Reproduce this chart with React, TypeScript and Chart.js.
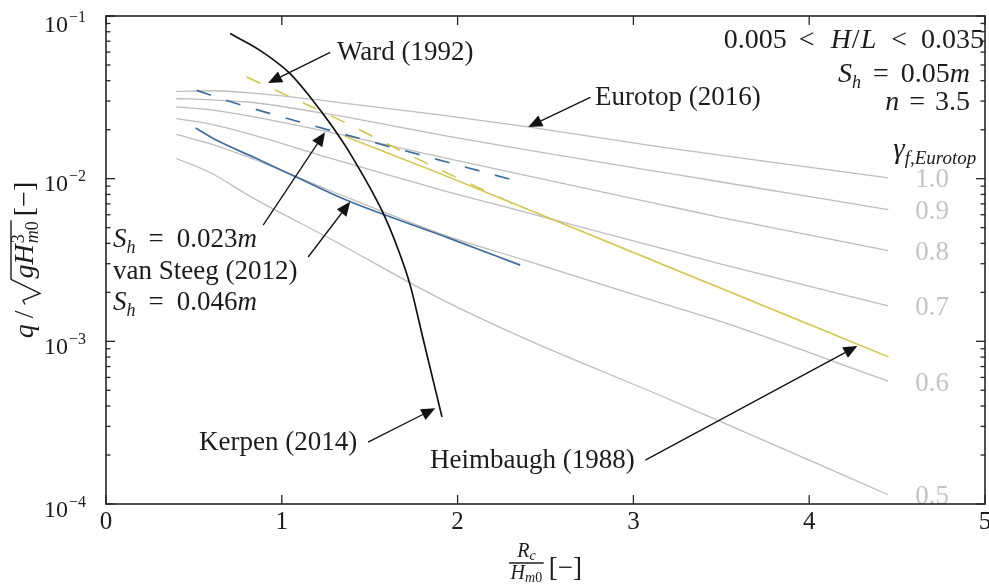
import { useEffect, useRef } from 'react';
import { Chart, registerables } from 'chart.js';

Chart.register(...registerables);

// ---------- data ----------
// Eurotop (2016) family, gamma_f = 1.0 ... 0.5
const EUROTOP_X = [0.4, 0.6, 0.82, 1.27, 1.9, 2.4, 3.15, 3.5, 4.45];
const EUROTOP_G10 = [0.0344, 0.0347, 0.0337, 0.0299, 0.0247, 0.0208, 0.0157, 0.0139, 0.0101];
const EUROTOP_G09 = [0.0311, 0.0305, 0.0295, 0.0249, 0.0186, 0.015, 0.011, 0.00954, 0.00646];
const EUROTOP_G08 = [0.0276, 0.0265, 0.0242, 0.0193, 0.0136, 0.0104, 0.00696, 0.00577, 0.00361];
const EUROTOP_G07 = [0.0234, 0.0216, 0.0188, 0.0134, 0.00857, 0.00616, 0.00375, 0.00298, 0.00165];
const EUROTOP_G06 = [0.0187, 0.0163, 0.0134, 0.00849, 0.0046, 0.00311, 0.00173, 0.00132, 0.000569];
const EUROTOP_G05 = [0.0133, 0.0108, 0.00779, 0.0043, 0.00183, 0.00102, 0.000466, 0.00032, 0.000114];
const GAMMA_LABELS = ['1.0', '0.9', '0.8', '0.7', '0.6', '0.5'];

// van Steeg (2012)
const STEEG023_X = [0.516, 0.7, 1.275, 1.8, 2.356];
const STEEG023_Y = [0.0349, 0.0299, 0.0198, 0.0139, 0.00954];
const STEEG046_X = [0.51, 0.63, 0.85, 1.085, 1.37, 1.958, 2.356];
const STEEG046_Y = [0.0205, 0.0172, 0.0134, 0.0102, 0.00736, 0.00428, 0.00294];

// Heimbaugh (1988)
const HEIM_X = [1.36, 1.901, 3.153, 4.451];
const HEIM_Y = [0.0182, 0.01074, 0.00301, 0.000802];

// Ward (1992)
const WARD_X = [0.8, 1.313, 1.787, 2.356];
const WARD_Y = [0.0422, 0.0234, 0.013, 0.0067];

// Kerpen (2014)
const KERP_X = [0.706, 0.876, 1.047, 1.161, 1.275, 1.389, 1.577, 1.655, 1.729, 1.803, 1.911];
const KERP_Y = [0.078, 0.0615, 0.0443, 0.0318, 0.0218, 0.01426, 0.00612, 0.00384, 0.00224, 0.001045, 0.000343];

// axes
const X_TICKS = [0, 1, 2, 3, 4, 5];
const Y_EXPONENTS = [-4, -3, -2, -1];

// annotation text anchors (data coords, left/baseline) and arrows (tail -> tip)
const NOTE_TEXT = ['Ward (1992)', 'Eurotop (2016)', 'van Steeg (2012)', 'Kerpen (2014)', 'Heimbaugh (1988)'];
const NOTE_POS = [
  [1.314, 0.0534],
  [2.782, 0.02825],
  [0.04, 0.002432],
  [0.529, 0.000214],
  [1.843, 0.000166],
];
const SH023_POS = [0.04, 0.003803];
const SH046_POS = [0.04, 0.001552];
const ARROWS = [
  [1.275, 0.0598, 0.922, 0.0387],
  [2.755, 0.0316, 2.402, 0.0208],
  [0.894, 0.00518, 1.246, 0.0193],
  [1.15, 0.0033, 1.389, 0.0072],
  [1.491, 0.00024, 1.873, 0.000388],
  [3.068, 0.000186, 4.274, 0.000937],
];

// ---------- helpers ----------
const FONT = '"Liberation Serif", "Times New Roman", serif';
const INK = '#1c1c1c';
type Run = { t?: string; it?: boolean; sz?: number; dy?: number; gap?: number };

function fnt(r: Run, base: number) {
  return `${r.it ? 'italic ' : ''}${r.sz ?? base}px ${FONT}`;
}
function widthOf(ctx: CanvasRenderingContext2D, runs: Run[], base: number) {
  let w = 0;
  for (const r of runs) {
    if (r.gap !== undefined) w += r.gap;
    else {
      ctx.font = fnt(r, base);
      w += ctx.measureText(r.t || '').width;
    }
  }
  return w;
}
function drawRuns(ctx: CanvasRenderingContext2D, runs: Run[], x: number, y: number, align: string, base = 27) {
  const w = widthOf(ctx, runs, base);
  let cx = align === 'left' ? x : align === 'right' ? x - w : x - w / 2;
  ctx.textAlign = 'left';
  ctx.textBaseline = 'alphabetic';
  for (const r of runs) {
    if (r.gap !== undefined) {
      cx += r.gap;
      continue;
    }
    ctx.font = fnt(r, base);
    ctx.fillText(r.t || '', cx, y + (r.dy ?? 0));
    cx += ctx.measureText(r.t || '').width;
  }
  return w;
}
function seg(ctx: CanvasRenderingContext2D, x1: number, y1: number, x2: number, y2: number) {
  ctx.beginPath();
  ctx.moveTo(x1, y1);
  ctx.lineTo(x2, y2);
  ctx.stroke();
}
function arrow(ctx: CanvasRenderingContext2D, x1: number, y1: number, x2: number, y2: number) {
  const ang = Math.atan2(y2 - y1, x2 - x1);
  const L = 14, W = 6;
  const bx = x2 - L * Math.cos(ang), by = y2 - L * Math.sin(ang);
  seg(ctx, x1, y1, bx, by);
  ctx.beginPath();
  ctx.moveTo(x2, y2);
  ctx.lineTo(bx + W * Math.sin(ang), by - W * Math.cos(ang));
  ctx.lineTo(bx - W * Math.sin(ang), by + W * Math.cos(ang));
  ctx.closePath();
  ctx.fill();
}

function drawYTitle(ctx: CanvasRenderingContext2D, cx: number, cy: number) {
  ctx.save();
  ctx.translate(cx, cy);
  ctx.rotate(-Math.PI / 2);
  const base = 28;
  ctx.font = fnt({ it: true }, base);
  const wq = ctx.measureText('q').width;
  const wg = ctx.measureText('g').width;
  const wH = ctx.measureText('H').width;
  ctx.font = fnt({}, base);
  const wsl = ctx.measureText('/').width;
  const wbr = ctx.measureText('[−]').width;
  ctx.font = fnt({ it: true }, 18);
  const wm = ctx.measureText('m').width;
  ctx.font = fnt({}, 18);
  const w0 = ctx.measureText('0').width;
  const w3 = ctx.measureText('3').width;
  const wsub = Math.max(wm + w0, w3);
  const radW = 26;
  const g1 = 6, g2 = 6, g3 = 5;
  const total = wq + g1 + wsl + g2 + radW + wg + wH + 1 + wsub + g3 + wbr;
  let x = -total / 2;
  ctx.fillStyle = INK;
  ctx.strokeStyle = INK;
  ctx.textBaseline = 'alphabetic';
  ctx.textAlign = 'left';
  ctx.font = fnt({ it: true }, base);
  ctx.fillText('q', x, 0);
  x += wq + g1;
  ctx.font = fnt({}, base);
  ctx.fillText('/', x, 0);
  x += wsl + g2;
  // radical
  const top = -22;
  ctx.lineWidth = 1.4;
  ctx.beginPath();
  ctx.moveTo(x, -8);
  ctx.lineTo(x + 4, -10);
  ctx.lineTo(x + 11, 7);
  ctx.lineTo(x + radW - 1, top);
  ctx.stroke();
  const overStart = x + radW - 1;
  x += radW;
  ctx.font = fnt({ it: true }, base);
  ctx.fillText('g', x, 0);
  x += wg;
  ctx.fillText('H', x, 0);
  x += wH + 1;
  ctx.font = fnt({}, 18);
  ctx.fillText('3', x, -9);
  ctx.font = fnt({ it: true }, 18);
  ctx.fillText('m', x, 5);
  ctx.font = fnt({}, 18);
  ctx.fillText('0', x + wm, 5);
  x += wsub;
  seg(ctx, overStart, top, x + 1, top);
  x += g3;
  ctx.font = fnt({}, base);
  ctx.fillText('[−]', x, 0);
  ctx.restore();
}

function drawXTitle(ctx: CanvasRenderingContext2D, cx: number, barY: number) {
  ctx.fillStyle = INK;
  ctx.strokeStyle = INK;
  const num: Run[] = [{ t: 'R', it: true, sz: 20 }, { t: 'c', it: true, sz: 14, dy: 3 }];
  const den: Run[] = [{ t: 'H', it: true, sz: 20 }, { t: 'm', it: true, sz: 14, dy: 3 }, { t: '0', sz: 14, dy: 3 }];
  const wn = widthOf(ctx, num, 20);
  const wd = widthOf(ctx, den, 20);
  const fw = Math.max(wn, wd) + 3;
  const br: Run[] = [{ t: '[−]' }];
  const wb = widthOf(ctx, br, 27);
  const gap = 5;
  const total = fw + gap + wb;
  const x0 = cx - total / 2;
  ctx.lineWidth = 1.3;
  seg(ctx, x0, barY, x0 + fw, barY);
  drawRuns(ctx, num, x0 + fw / 2, barY - 6, 'center', 20);
  drawRuns(ctx, den, x0 + fw / 2, barY + 16, 'center', 20);
  drawRuns(ctx, br, x0 + fw + gap, barY + 13, 'left', 27);
}

const overlay = {
  id: 'overlay',
  afterDatasetsDraw(chart: any) {
    const { ctx, chartArea: a, scales } = chart;
    const X = (v: number) => scales.x.getPixelForValue(v);
    const Y = (v: number) => scales.y.getPixelForValue(v);
    ctx.save();
    ctx.fillStyle = INK;
    ctx.strokeStyle = '#262626';

    // gamma labels at curve ends
    const ends = [EUROTOP_G10, EUROTOP_G09, EUROTOP_G08, EUROTOP_G07, EUROTOP_G06, EUROTOP_G05];
    const lastX = EUROTOP_X[EUROTOP_X.length - 1];
    ctx.fillStyle = '#c4c4c4';
    ends.forEach((arr, i) => {
      drawRuns(ctx, [{ t: GAMMA_LABELS[i] }], X(lastX) + 27, Y(arr[arr.length - 1]) + 9.5, 'left', 27);
    });
    ctx.fillStyle = INK;

    // frame
    ctx.lineWidth = 1.6;
    ctx.strokeRect(a.left, a.top, a.right - a.left, a.bottom - a.top);
    // x ticks (inward, top and bottom)
    ctx.lineWidth = 1.3;
    X_TICKS.forEach((t) => {
      const px = X(t);
      seg(ctx, px, a.bottom, px, a.bottom - 9);
      seg(ctx, px, a.top, px, a.top + 9);
    });
    // y ticks (log, inward, left and right)
    Y_EXPONENTS.forEach((e) => {
      for (let m = 1; m <= 9; m++) {
        const v = m * Math.pow(10, e);
        if (v > 0.1000001) break;
        const py = Y(v);
        const len = m === 1 ? 9 : 4.5;
        seg(ctx, a.left, py, a.left + len, py);
        seg(ctx, a.right, py, a.right - len, py);
      }
    });
    const pyTop = Y(0.1);
    seg(ctx, a.left, pyTop, a.left + 9, pyTop);

    // tick labels
    X_TICKS.forEach((t) => {
      drawRuns(ctx, [{ t: String(t) }], X(t), a.bottom + 25, 'center', 25);
    });
    Y_EXPONENTS.forEach((e) => {
      const py = Y(Math.pow(10, e));
      const base = Math.max(py + 12.7, a.top + 16);
      drawRuns(ctx, [{ t: '10', sz: 24 }, { gap: 1 }, { t: '−' + String(-e), sz: 16, dy: -10 }], a.left - 20, base, 'right', 24);
    });

    // axis titles
    drawYTitle(ctx, 33, (a.top + a.bottom) / 2);
    drawXTitle(ctx, (a.left + a.right) / 2, a.bottom + 59);

    // top-right parameter text
    drawRuns(ctx, [
      { t: '0.005' }, { gap: 12 }, { t: '<' }, { gap: 16 }, { t: 'H', it: true }, { gap: 1 }, { t: '/' }, { gap: 1 },
      { t: 'L', it: true }, { gap: 15 }, { t: '<' }, { gap: 14 }, { t: '0.035' },
    ], a.right - 1, a.top + 32, 'right', 28);
    drawRuns(ctx, [
      { t: 'S', it: true }, { t: 'h', it: true, sz: 18, dy: 6 }, { gap: 12 }, { t: '=' }, { gap: 12 }, { t: '0.05' }, { t: 'm', it: true },
    ], a.right - 15, a.top + 66, 'right', 28);
    drawRuns(ctx, [{ t: 'n', it: true }, { gap: 10 }, { t: '=' }, { gap: 10 }, { t: '3.5' }], a.right - 15, a.top + 94, 'right', 28);
    drawRuns(ctx, [{ t: 'γ', it: true, sz: 29 }, { t: 'f,Eurotop', it: true, sz: 19, dy: 6 }], X(lastX) + 5, a.top + 142, 'left', 28);

    // annotations
    NOTE_TEXT.forEach((t, i) => {
      drawRuns(ctx, [{ t }], X(NOTE_POS[i][0]), Y(NOTE_POS[i][1]), 'left', 27);
    });
    const shRuns = (val: string): Run[] => [
      { t: 'S', it: true }, { t: 'h', it: true, sz: 18, dy: 6 }, { gap: 13 }, { t: '=' }, { gap: 13 }, { t: val }, { t: 'm', it: true },
    ];
    drawRuns(ctx, shRuns('0.023'), X(SH023_POS[0]), Y(SH023_POS[1]), 'left', 27);
    drawRuns(ctx, shRuns('0.046'), X(SH046_POS[0]), Y(SH046_POS[1]), 'left', 27);

    ctx.lineWidth = 1.3;
    ctx.strokeStyle = '#111';
    ctx.fillStyle = '#111';
    ARROWS.forEach((r) => arrow(ctx, X(r[0]), Y(r[1]), X(r[2]), Y(r[3])));
    ctx.restore();
  },
};

function pts(xs: number[], ys: number[]) {
  return xs.map((x, i) => ({ x, y: ys[i] }));
}

export default function App() {
  const ref = useRef<HTMLCanvasElement>(null);
  useEffect(() => {
    const GRAY = '#bdbdbd';
    const BLUE = '#3e6d9c';
    const YEL = '#d3c548';
    const line = (data: any, color: string, width: number, dash: number[] = []) => ({
      data,
      borderColor: color,
      borderWidth: width,
      borderDash: dash,
      pointRadius: 0,
      fill: false,
      cubicInterpolationMode: 'monotone',
    });
    const datasets: any[] = [
      line(pts(KERP_X, KERP_Y), '#111111', 1.7),
      line(pts(HEIM_X, HEIM_Y), YEL, 1.5),
      line(pts(WARD_X, WARD_Y), YEL, 1.5, [15, 16]),
      line(pts(STEEG046_X, STEEG046_Y), BLUE, 1.7),
      line(pts(STEEG023_X, STEEG023_Y), BLUE, 1.7, [15, 16]),
      line(pts(EUROTOP_X, EUROTOP_G10), GRAY, 1.3),
      line(pts(EUROTOP_X, EUROTOP_G09), GRAY, 1.3),
      line(pts(EUROTOP_X, EUROTOP_G08), GRAY, 1.3),
      line(pts(EUROTOP_X, EUROTOP_G07), GRAY, 1.3),
      line(pts(EUROTOP_X, EUROTOP_G06), GRAY, 1.3),
      line(pts(EUROTOP_X, EUROTOP_G05), GRAY, 1.3),
    ];
    const chart = new Chart(ref.current as HTMLCanvasElement, {
      type: 'line',
      data: { datasets },
      options: {
        animation: false,
        responsive: false,
        maintainAspectRatio: false,
        layout: { padding: { left: 106, right: 4, top: 16, bottom: 82 } },
        scales: {
          x: { type: 'linear', min: 0, max: 5, display: false },
          y: { type: 'logarithmic', min: 1e-4, max: 0.1, display: false },
        },
        plugins: { legend: { display: false }, tooltip: { enabled: false } },
      },
      plugins: [overlay],
    } as any);
    return () => chart.destroy();
  }, []);
  return (
    <div style={{ position: 'fixed', left: 0, top: 0, width: 989, height: 586, background: '#fff' }}>
      <canvas ref={ref} width={989} height={586} style={{ display: 'block', width: 989, height: 586 }} />
    </div>
  );
}
